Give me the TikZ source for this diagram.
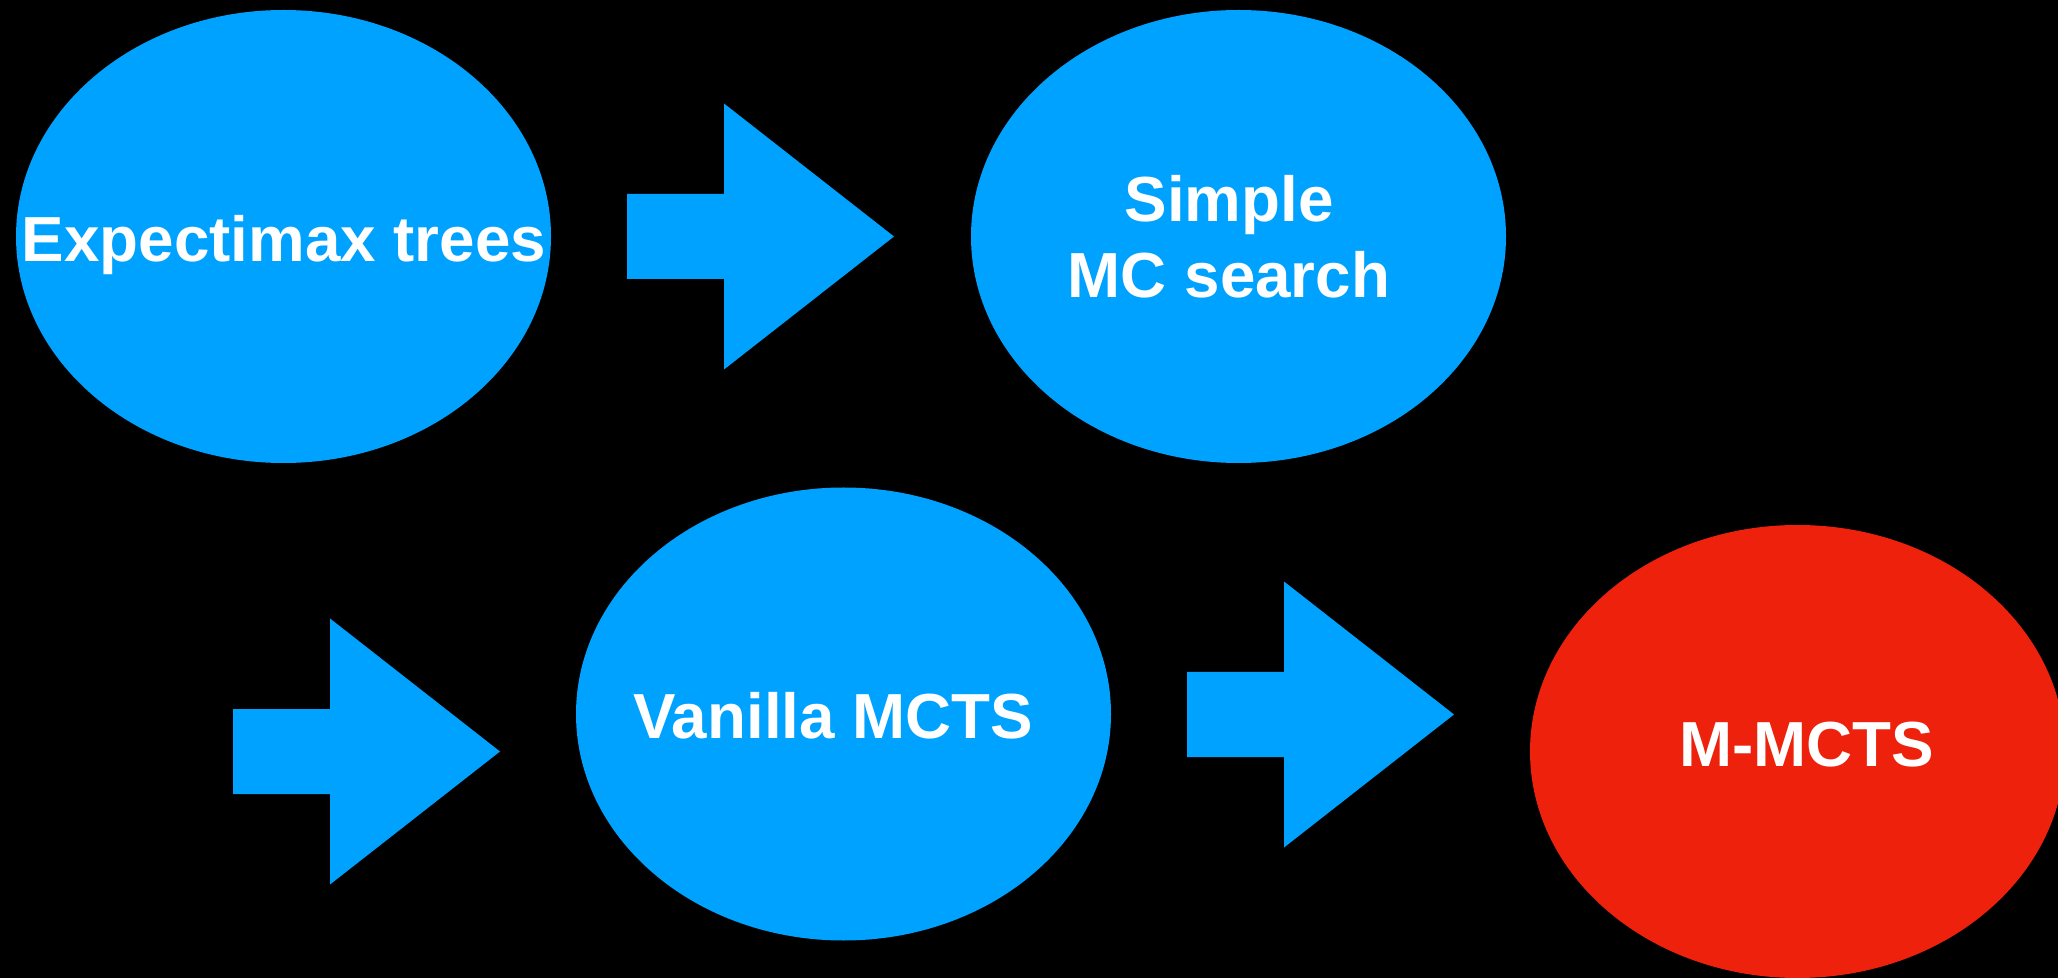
\documentclass[tikz,border=0pt]{standalone}
\usepackage{fontspec}
\setmainfont{Liberation Sans}
\usetikzlibrary{shapes.geometric}
\definecolor{stageblue}{HTML}{00A2FF}
\definecolor{stagered}{HTML}{EE220C}
\tikzset{
  stage/.style={ellipse, minimum width=267.5pt, minimum height=226.5pt,
    inner sep=0pt, fill=stageblue},
  caption/.style={text=white, inner sep=0pt, anchor=base, align=center,
    font=\fontsize{31.85pt}{38pt}\selectfont\bfseries},
  blockarrow/.pic={
    \fill[stageblue] (0,-42.5) -- (97,-42.5) -- (97,-133) -- (267,0)
      -- (97,133) -- (97,42.5) -- (0,42.5) -- cycle;
  }
}
\begin{document}
\begin{tikzpicture}[x=0.5pt,y=-0.5pt]
  % canvas
  \fill[black] (0,0) rectangle (2058,978);
  \useasboundingbox (0,0) rectangle (2058,978);
  \clip (0,0) rectangle (2058,978);

  % stages
  \node[stage] (exp) at (283.5,236.5) {};
  \node[stage] (smc) at (1238.5,236.5) {};
  \node[stage] (van) at (843.5,714) {};
  \node[stage, fill=stagered] (mm) at (1797.5,751.5) {};

  % block arrows (anchored at the left end of the shaft)
  \coordinate (f1) at (627,236.5);
  \coordinate (f2) at (233,751.5);
  \coordinate (f3) at (1187,714.5);
  \pic at (f1) {blockarrow};
  \pic at (f2) {blockarrow};
  \pic at (f3) {blockarrow};

  % labels (base anchor: baseline of the last line)
  \node[caption] (lexp) at (284,262) {Expectimax trees};
  \node[caption] (lsmc) at (1229,298) {Simple\\MC search};
  \node[caption] (lvan) at (833,738) {Vanilla MCTS};
  \node[caption] (lmm) at (1807,766) {M-MCTS};
\end{tikzpicture}
\end{document}
